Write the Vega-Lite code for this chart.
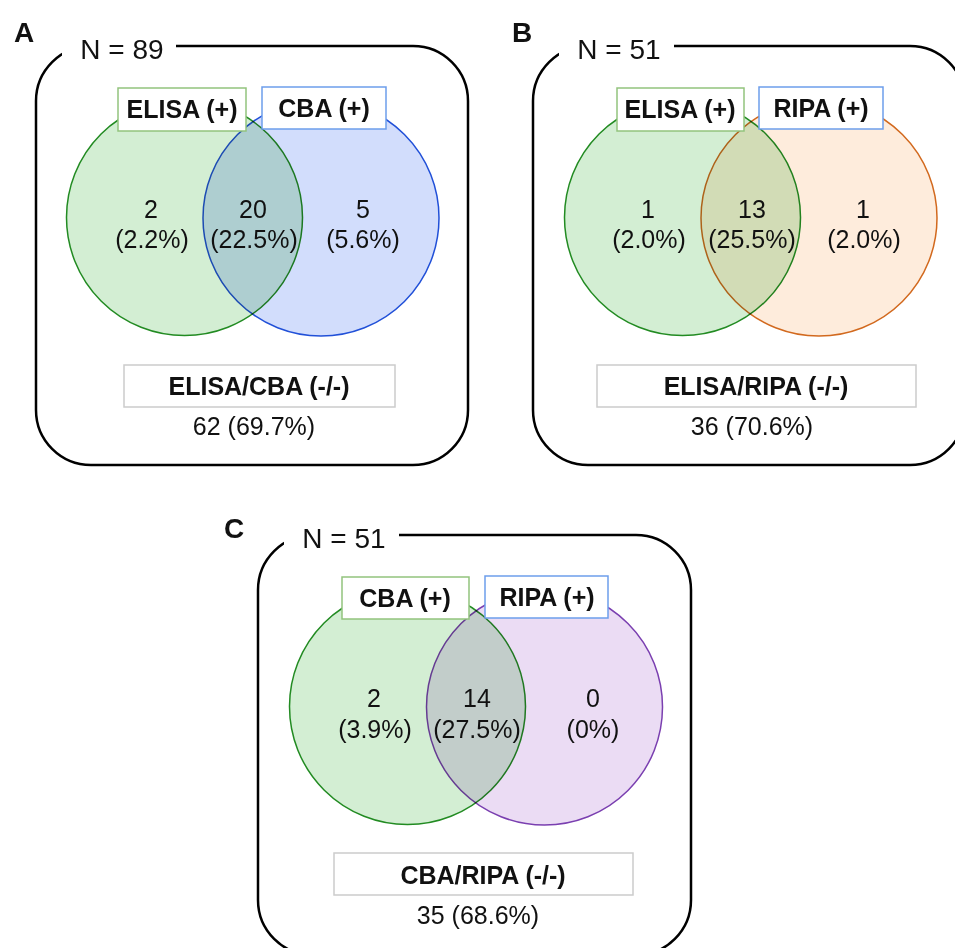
{
  "$schema": "https://vega.github.io/schema/vega-lite/v6.json",
  "width": 955,
  "height": 948,
  "autosize": {"type": "none"},
  "padding": 0,
  "background": "white",
  "config": {"view": {"stroke": null}, "text": {"font": "Liberation Sans", "color": "#111111"}},
  "datasets": {
    "frames": [
      {"panel": "A", "x": 36, "x2": 468, "y": 46, "y2": 465},
      {"panel": "B", "x": 533, "x2": 965, "y": 46, "y2": 465},
      {"panel": "C", "x": 258, "x2": 691, "y": 535, "y2": 955}
    ],
    "covers": [
      {"panel": "A", "x": 62, "x2": 176, "y": 25, "y2": 60},
      {"panel": "B", "x": 559, "x2": 674, "y": 25, "y2": 60},
      {"panel": "C", "x": 284, "x2": 399, "y": 514, "y2": 549}
    ],
    "circles": [
      {"set": "A: ELISA", "x": 184.5, "y": 217.5},
      {"set": "A: CBA", "x": 321, "y": 218},
      {"set": "B: ELISA", "x": 682.5, "y": 217.5},
      {"set": "B: RIPA", "x": 819, "y": 218},
      {"set": "C: CBA", "x": 407.5, "y": 706.5},
      {"set": "C: RIPA", "x": 544.5, "y": 707}
    ],
    "boxes": [
      {"kind": "left", "x": 118, "x2": 246, "y": 88, "y2": 131},
      {"kind": "right", "x": 262, "x2": 386, "y": 87, "y2": 129},
      {"kind": "bottom", "x": 124, "x2": 395, "y": 365, "y2": 407},
      {"kind": "left", "x": 617, "x2": 744, "y": 88, "y2": 131},
      {"kind": "right", "x": 759, "x2": 883, "y": 87, "y2": 129},
      {"kind": "bottom", "x": 597, "x2": 916, "y": 365, "y2": 407},
      {"kind": "left", "x": 342, "x2": 469, "y": 577, "y2": 619},
      {"kind": "right", "x": 485, "x2": 608, "y": 576, "y2": 618},
      {"kind": "bottom", "x": 334, "x2": 633, "y": 853, "y2": 895}
    ],
    "letters": [
      {"label": "A", "x": 24, "y": 42},
      {"label": "B", "x": 522, "y": 42},
      {"label": "C", "x": 234, "y": 538}
    ],
    "totals": [
      {"label": "N = 89", "x": 122, "y": 59},
      {"label": "N = 51", "x": 619, "y": 59},
      {"label": "N = 51", "x": 344, "y": 548}
    ],
    "setlabels": [
      {"label": "ELISA (+)", "x": 182, "y": 118},
      {"label": "CBA (+)", "x": 324, "y": 117},
      {"label": "ELISA/CBA (-/-)", "x": 259, "y": 395},
      {"label": "ELISA (+)", "x": 680, "y": 118},
      {"label": "RIPA (+)", "x": 821, "y": 117},
      {"label": "ELISA/RIPA (-/-)", "x": 756, "y": 395},
      {"label": "CBA (+)", "x": 405, "y": 607},
      {"label": "RIPA (+)", "x": 547, "y": 606},
      {"label": "CBA/RIPA (-/-)", "x": 483, "y": 884}
    ],
    "counts": [
      {"label": "2", "x": 151, "y": 218},
      {"label": "(2.2%)", "x": 152, "y": 248},
      {"label": "20", "x": 253, "y": 218},
      {"label": "(22.5%)", "x": 254, "y": 248},
      {"label": "5", "x": 363, "y": 218},
      {"label": "(5.6%)", "x": 363, "y": 248},
      {"label": "62 (69.7%)", "x": 254, "y": 435},
      {"label": "1", "x": 648, "y": 218},
      {"label": "(2.0%)", "x": 649, "y": 248},
      {"label": "13", "x": 752, "y": 218},
      {"label": "(25.5%)", "x": 752, "y": 248},
      {"label": "1", "x": 863, "y": 218},
      {"label": "(2.0%)", "x": 864, "y": 248},
      {"label": "36 (70.6%)", "x": 752, "y": 435},
      {"label": "2", "x": 374, "y": 707},
      {"label": "(3.9%)", "x": 375, "y": 738},
      {"label": "14", "x": 477, "y": 707},
      {"label": "(27.5%)", "x": 477, "y": 738},
      {"label": "0", "x": 593, "y": 707},
      {"label": "(0%)", "x": 593, "y": 738},
      {"label": "35 (68.6%)", "x": 478, "y": 924}
    ]
  },
  "encoding": {
    "x": {"field": "x", "type": "quantitative", "scale": {"domain": [0, 955], "nice": false, "zero": false}, "axis": null},
    "y": {"field": "y", "type": "quantitative", "scale": {"domain": [0, 948], "nice": false, "zero": false, "reverse": true}, "axis": null}
  },
  "resolve": {"scale": {"stroke": "independent", "fill": "independent"}},
  "layer": [
    {
      "data": {"name": "frames"},
      "mark": {"type": "rect", "cornerRadius": 55, "fillOpacity": 0, "stroke": "black", "strokeWidth": 2.5},
      "encoding": {"x2": {"field": "x2"}, "y2": {"field": "y2"}}
    },
    {
      "data": {"name": "covers"},
      "mark": {"type": "rect", "fill": "white", "strokeWidth": 0},
      "encoding": {"x2": {"field": "x2"}, "y2": {"field": "y2"}}
    },
    {
      "data": {"name": "circles"},
      "mark": {"type": "point", "shape": "circle", "filled": true, "size": 55696, "opacity": 1, "fillOpacity": 1, "strokeWidth": 1.5, "blend": "multiply"},
      "encoding": {
        "fill": {
          "field": "set", "type": "nominal", "legend": null,
          "scale": {
            "domain": ["A: ELISA", "A: CBA", "B: ELISA", "B: RIPA", "C: CBA", "C: RIPA"],
            "range": ["#d3eed3", "#d2ddfc", "#d3eed3", "#feecdc", "#d3eed3", "#ebdcf4"]
          }
        },
        "stroke": {
          "field": "set", "type": "nominal", "legend": null,
          "scale": {
            "domain": ["A: ELISA", "A: CBA", "B: ELISA", "B: RIPA", "C: CBA", "C: RIPA"],
            "range": ["#228b22", "#2150d8", "#228b22", "#d2691e", "#228b22", "#7a3fb0"]
          }
        }
      }
    },
    {
      "data": {"name": "boxes"},
      "mark": {"type": "rect", "fill": "white", "strokeWidth": 1.5},
      "encoding": {
        "x2": {"field": "x2"},
        "y2": {"field": "y2"},
        "stroke": {
          "field": "kind", "type": "nominal", "legend": null,
          "scale": {"domain": ["left", "right", "bottom"], "range": ["#93c47d", "#6d9eeb", "#cccccc"]}
        }
      }
    },
    {
      "data": {"name": "letters"},
      "mark": {"type": "text", "fontSize": 28, "fontWeight": "bold", "align": "center", "baseline": "alphabetic"},
      "encoding": {"text": {"field": "label"}}
    },
    {
      "data": {"name": "totals"},
      "mark": {"type": "text", "fontSize": 28, "align": "center", "baseline": "alphabetic"},
      "encoding": {"text": {"field": "label"}}
    },
    {
      "data": {"name": "setlabels"},
      "mark": {"type": "text", "fontSize": 25, "fontWeight": "bold", "align": "center", "baseline": "alphabetic"},
      "encoding": {"text": {"field": "label"}}
    },
    {
      "data": {"name": "counts"},
      "mark": {"type": "text", "fontSize": 25, "align": "center", "baseline": "alphabetic"},
      "encoding": {"text": {"field": "label"}}
    }
  ]
}
